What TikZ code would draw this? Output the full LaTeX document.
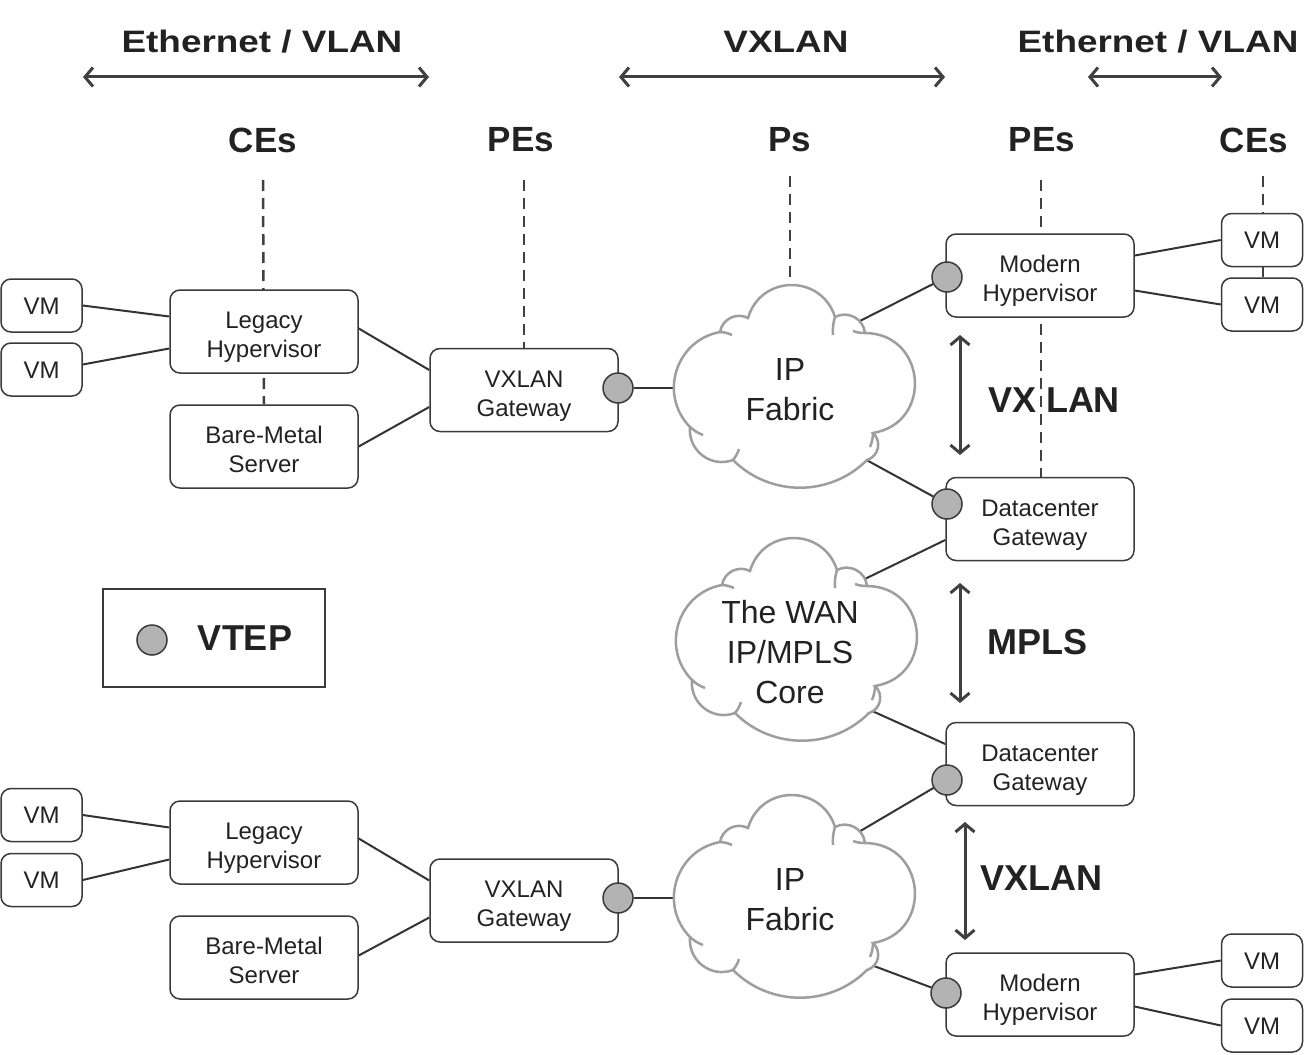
\documentclass[tikz,border=0pt]{standalone}
\usepackage{fontspec}
\setmainfont{Liberation Sans}
\usetikzlibrary{arrows.meta}
\pgfdeclarelayer{bg}
\pgfsetlayers{bg,main}
\definecolor{boxgray}{HTML}{3A3A3A}
\definecolor{linegray}{HTML}{333333}
\definecolor{cloudgray}{HTML}{9E9E9E}
\definecolor{vtepgray}{HTML}{B3B3B3}
\definecolor{txt}{HTML}{222222}
\definecolor{arrowgray}{HTML}{404040}
\newcommand{\drawcloud}[1]{%
  \begin{scope}[shift={#1}]
    \draw[cloudline, fill=white] (-70,-53)
      to[bend left=54,looseness=1.07] (-42,-67)
      to[bend left=73,looseness=1.33] (45,-68)
      to[bend left=56,looseness=1.09] (75,-52)
      to[bend left=85,looseness=1.57] (83,48)
      to[bend left=60,looseness=1.14] (77,75)
      to[bend left=45,looseness=1.0] (-57,75)
      to[bend left=58,looseness=1.11] (-100,42)
      to[bend left=62,looseness=1.16] cycle;
    \draw[cloudline] (-70,-53) to[bend left=10] (-58,-50);
    \draw[cloudline] (45,-68) to[bend right=10] (43,-50);
    \draw[cloudline] (75,-52) to[bend left=10] (63,-54);
    \draw[cloudline] (83,48) to[bend left=10] (80,62);
    \draw[cloudline] (-57,75) to[bend right=10] (-51,64);
    \draw[cloudline] (-100,42) to[bend right=10] (-87,50);
  \end{scope}}
\begin{document}
\begin{tikzpicture}[x=1pt,y=-1pt,
  box/.style={draw=boxgray, line width=1.5pt, rounded corners=10pt, fill=white,
    minimum width=188pt, minimum height=83pt, align=center, text=txt, inner sep=0pt,
    font=\fontsize{24}{29}\selectfont, text height=52pt, text depth=0pt},
  vm/.style={box, minimum width=81pt, minimum height=53pt, text height=17pt, text depth=0pt},
  vtep/.style={circle, draw=boxgray, fill=vtepgray, line width=1.5pt, minimum size=30pt, inner sep=0pt},
  hdr/.style={font=\fontsize{31}{36}\selectfont\bfseries, text=txt, inner sep=0pt},
  role/.style={font=\fontsize{35}{40}\selectfont\bfseries, text=txt, inner sep=0pt},
  side/.style={font=\fontsize{36}{40}\selectfont\bfseries, text=txt, inner sep=0pt},
  cloudtext/.style={font=\fontsize{32}{40}\selectfont, text=txt, align=center, inner sep=0pt},
  cloudline/.style={draw=cloudgray, line width=2.5pt},
  conn/.style={draw=linegray, line width=2pt},
  dashline/.style={draw=arrowgray, line width=2.5pt, dash pattern=on 11pt off 7pt},
  dblarrow/.style={draw=arrowgray, line width=3pt,
    {Straight Barb[length=8pt,width=19pt]}-{Straight Barb[length=8pt,width=19pt]}}
]
\useasboundingbox (0,0) rectangle (1316,1054);
\begin{pgfonlayer}{bg}
  \fill[white] (0,0) rectangle (1316,1054);
\end{pgfonlayer}

% ---------- headers ----------
\node[hdr] (eth1) at (262,42) {\scalebox{1.19}[1]{Ethernet / VLAN}};
\node[hdr] (vxh) at (786,42) {\scalebox{1.19}[1]{VXLAN}};
\node[hdr] (eth2) at (1158,42) {\scalebox{1.19}[1]{Ethernet / VLAN}};
\coordinate (a1l) at (83,77);  \coordinate (a1r) at (429,77);
\coordinate (a2l) at (619,77); \coordinate (a2r) at (945,77);
\coordinate (a3l) at (1088,77); \coordinate (a3r) at (1222,77);
\draw[dblarrow] (a1l) -- (a1r);
\draw[dblarrow] (a2l) -- (a2r);
\draw[dblarrow] (a3l) -- (a3r);

\node[role] (ces1) at (263,140) {CEs};
\node[role] (pes1) at (521,140) {PEs};
\node[role] (ps) at (790,140) {Ps};
\node[role] (pes2) at (1042,140) {PEs};
\node[role] (ces2) at (1254,140) {CEs};

% ---------- top section boxes ----------
\node[vm] (vm1) at (41.5,305.5) {VM};
\node[vm] (vm2) at (41.5,369.5) {VM};
\node[box] (leg1) at (264,331.5) {Legacy\\Hypervisor};
\node[box] (bm1) at (264,446.5) {Bare-Metal\\Server};
\node[box] (gw1) at (524,390) {VXLAN\\Gateway};
\node[box] (mh1) at (1040,275.5) {Modern\\Hypervisor};
\node[vm] (vmr1) at (1262,240) {VM};
\node[vm] (vmr2) at (1262,304.5) {VM};
\node[box] (dc1) at (1040,519) {Datacenter\\Gateway};
\node[box] (dc2) at (1040,764) {Datacenter\\Gateway};

% ---------- bottom section boxes ----------
\node[vm] (vmb1) at (41.5,815) {VM};
\node[vm] (vmb2) at (41.5,880) {VM};
\node[box] (leg2) at (264,842.5) {Legacy\\Hypervisor};
\node[box] (bm2) at (264,957.5) {Bare-Metal\\Server};
\node[box] (gw2) at (524,900.5) {VXLAN\\Gateway};
\node[box] (mh2) at (1040,994.5) {Modern\\Hypervisor};
\node[vm] (vmr3) at (1262,960.5) {VM};
\node[vm] (vmr4) at (1262,1025.5) {VM};

% ---------- clouds ----------
\drawcloud{(790,385)}
\drawcloud{(792,638)}
\drawcloud{(790,895)}
\node[cloudtext] (ipf1) at (790,390) {IP\\Fabric};
\node[cloudtext] (wan) at (790,652) {The WAN\\IP/MPLS\\Core};
\node[cloudtext] (ipf2) at (790,900) {IP\\Fabric};
\coordinate (ipf1in) at (700,388);
\coordinate (ipf1ne) at (840,331);
\coordinate (ipf1se) at (850,451);
\coordinate (ipf1top) at (790,300);
\coordinate (wanne) at (840,591);
\coordinate (wanse) at (850,701);
\coordinate (ipf2in) at (700,898);
\coordinate (ipf2ne) at (840,843);
\coordinate (ipf2se) at (850,957);

% ---------- VTEPs ----------
\node[vtep] (gw1v) at (618,388) {};
\node[vtep] (mh1v) at (947,277) {};
\node[vtep] (dc1v) at (947,504) {};
\node[vtep] (dc2v) at (947,780) {};
\node[vtep] (gw2v) at (618,898) {};
\node[vtep] (mh2v) at (946,993) {};

% ---------- side labels and arrows ----------
\node[side] (lvx1) at (1054,400) {VX LAN};
\node[side] (lmpls) at (1037,642) {MPLS};
\node[side] (lvx2) at (1041,878) {VXLAN};
\coordinate (v1t) at (960,335); \coordinate (v1b) at (960,455);
\coordinate (v2t) at (960,583); \coordinate (v2b) at (960,703);
\coordinate (v3t) at (965,822); \coordinate (v3b) at (965,940);
\draw[dblarrow] (v1t) -- (v1b);
\draw[dblarrow] (v2t) -- (v2b);
\draw[dblarrow] (v3t) -- (v3b);

% ---------- legend ----------
\node[draw=boxgray, line width=1.5pt, minimum width=222pt, minimum height=98pt, inner sep=0pt] (legend) at (214,638) {};
\node[vtep] (legv) at (152,640) {};
\node[side] (legt) at (245,638) {VTEP};

% ---------- background connectors ----------
\begin{pgfonlayer}{bg}
  \coordinate (d1) at (263,180);
  \coordinate (d2) at (524,180);
  \coordinate (d3) at (790,176);
  \coordinate (d4) at (1041,180);
  \coordinate (d5) at (1263,176);
  \draw[dashline] (d1) -- (bm1.north);
  \draw[dashline] (d2) -- (gw1.north);
  \draw[dashline] (d3) -- (ipf1top);
  \draw[dashline] (d4) -- (1041,478);
  \draw[dashline] (d5) -- (1263,279);

  \draw[conn] (vm1.east) -- ([yshift=15pt]leg1.west);
  \draw[conn] ([yshift=5pt]vm2.east) -- ([yshift=-17pt]leg1.west);
  \draw[conn] ([yshift=3pt]leg1.east) -- ([yshift=20pt]gw1.west);
  \draw[conn] (bm1.east) -- ([yshift=-17pt]gw1.west);
  \draw[conn] (gw1v) -- (ipf1in);
  \draw[conn] (ipf1ne) -- (mh1v);
  \draw[conn] (ipf1se) -- (dc1v);
  \draw[conn] ([yshift=20pt]mh1.east) -- (vmr1.west);
  \draw[conn] ([yshift=-15pt]mh1.east) -- (vmr2.west);
  \draw[conn] (wanne) -- ([yshift=-21pt]dc1.west);
  \draw[conn] (wanse) -- ([yshift=20pt]dc2.west);

  \draw[conn] (vmb1.east) -- ([yshift=15pt]leg2.west);
  \draw[conn] (vmb2.east) -- ([yshift=-17pt]leg2.west);
  \draw[conn] ([yshift=4pt]leg2.east) -- ([yshift=20pt]gw2.west);
  \draw[conn] ([yshift=2pt]bm2.east) -- ([yshift=-17pt]gw2.west);
  \draw[conn] (gw2v) -- (ipf2in);
  \draw[conn] (ipf2ne) -- (dc2v);
  \draw[conn] (ipf2se) -- (mh2v);
  \draw[conn] ([yshift=20pt]mh2.east) -- (vmr3.west);
  \draw[conn] ([yshift=-12pt]mh2.east) -- (vmr4.west);
\end{pgfonlayer}
\end{tikzpicture}
\end{document}
